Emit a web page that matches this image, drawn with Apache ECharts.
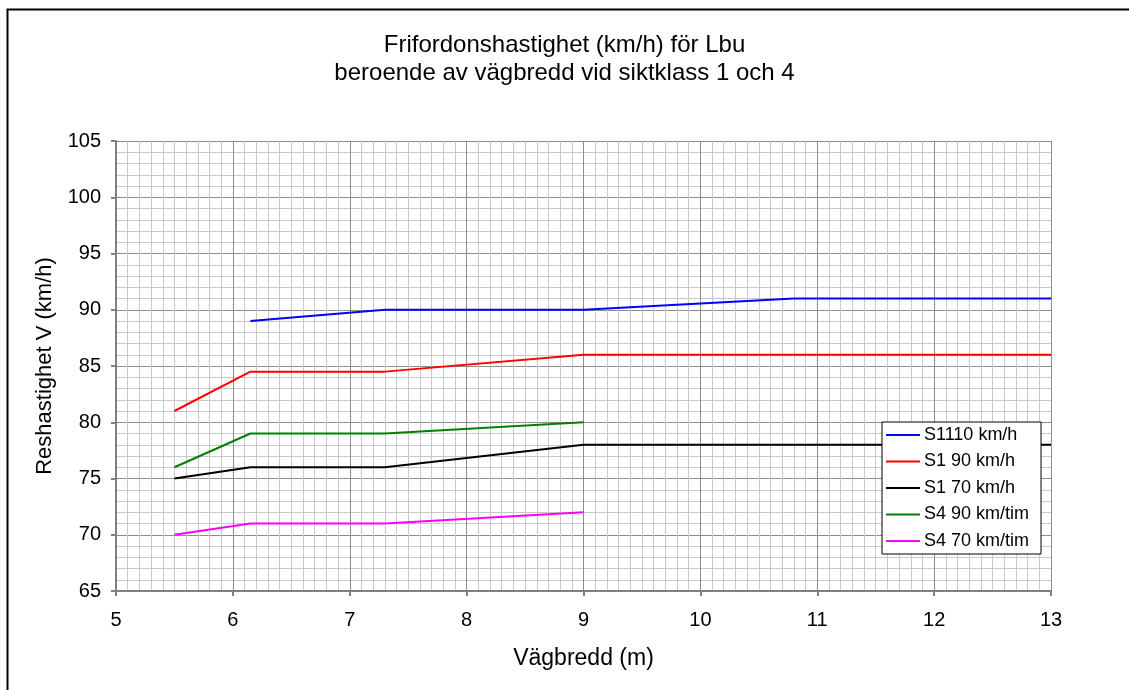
<!DOCTYPE html>
<html>
<head>
<meta charset="utf-8">
<script src="https://cdn.jsdelivr.net/npm/echarts@6/dist/echarts.min.js"></script>
<style>
  html, body { margin: 0; padding: 0; background: #fff; }
  #main { width: 1129px; height: 690px; }
</style>
</head>
<body>
<div id="main"></div>
<script>
// vägbredd (m) för varje serie
var widthsS1110 = [6.15, 7.3, 9, 10.8, 13];
var widthsLong = [5.5, 6.15, 7.3, 9, 13];
var widthsShort = [5.5, 6.15, 7.3, 9];

// reshastighet (km/h)
var s1110 = [89, 90, 90, 91, 91];
var s190 = [81, 84.5, 84.5, 86, 86];
var s170 = [75, 76, 76, 78, 78];
var s490 = [76, 79, 79, 80];
var s470 = [70, 71, 71, 72];

var seriesNames = ['S1110 km/h', 'S1 90 km/h', 'S1 70 km/h', 'S4 90 km/tim', 'S4 70 km/tim'];
var seriesColors = ['#0000ff', '#ff0000', '#000000', '#008000', '#ff00ff'];

function pairs(xs, ys) {
    var out = [];
    for (var i = 0; i < xs.length; i++) out.push([xs[i], ys[i]]);
    return out;
}

var seriesData = [
    pairs(widthsS1110, s1110),
    pairs(widthsLong, s190),
    pairs(widthsLong, s170),
    pairs(widthsShort, s490),
    pairs(widthsShort, s470)
];

var myChart = echarts.init(document.getElementById('main'));

var font = 'Liberation Sans, Arial, sans-serif';

var option = {
    animation: false,
    backgroundColor: '#fff',
    textStyle: { fontFamily: font },

    // ram: bara övre och vänstra kanten syns
    graphic: [{
        type: 'polyline',
        shape: { points: [[7.5, 690], [7.5, 9.5], [1129, 9.5]] },
        style: { fill: 'none', stroke: '#000', lineWidth: 2 },
        z: 100
    }],

    title: {
        text: 'Frifordonshastighet (km/h) för Lbu\nberoende av vägbredd vid siktklass 1 och 4',
        left: 'center',
        top: 26,
        textStyle: {
            fontSize: 24,
            fontWeight: 'normal',
            color: '#000',
            lineHeight: 28,
            fontFamily: font
        }
    },

    legend: {
        orient: 'vertical',
        left: 882,
        top: 422,
        itemWidth: 34,
        itemHeight: 2,
        itemGap: 8.5,
        padding: [4, 12, 4, 4],
        backgroundColor: '#fff',
        borderColor: '#000',
        borderWidth: 1,
        borderRadius: 0,
        icon: 'rect',
        textStyle: { fontSize: 18, color: '#000', fontFamily: font, padding: [0, 0, 0, -1] },
        data: seriesNames
    },

    grid: {
        left: 116,
        right: 78,
        top: 141,
        bottom: 99,
        containLabel: false
    },

    xAxis: {
        type: 'value',
        min: 5,
        max: 13,
        interval: 1,
        name: 'Vägbredd (m)',
        nameLocation: 'middle',
        nameGap: 56,
        nameTextStyle: { fontSize: 23, color: '#000' },
        axisLine: { lineStyle: { color: '#808080', width: 2 } },
        axisTick: { show: true, length: 5, lineStyle: { color: '#808080', width: 2 } },
        axisLabel: { fontSize: 20, color: '#000', margin: 19 },
        splitLine: { show: true, lineStyle: { color: '#8c8c8c', width: 1 } },
        minorTick: { show: false, splitNumber: 10 },
        minorSplitLine: { show: true, lineStyle: { color: '#c8c8c8', width: 1 } }
    },

    yAxis: {
        type: 'value',
        min: 65,
        max: 105,
        interval: 5,
        name: 'Reshastighet V (km/h)',
        nameLocation: 'middle',
        nameGap: 60,
        nameTextStyle: { fontSize: 22, color: '#000' },
        axisLine: { show: true, lineStyle: { color: '#808080', width: 2 } },
        axisTick: { show: true, length: 5, lineStyle: { color: '#808080', width: 2 } },
        axisLabel: { fontSize: 20, color: '#000', margin: 15 },
        splitLine: { show: true, lineStyle: { color: '#8c8c8c', width: 1 } },
        minorTick: { show: false, splitNumber: 5 },
        minorSplitLine: { show: true, lineStyle: { color: '#c8c8c8', width: 1 } }
    },

    series: seriesNames.map(function (name, i) {
        return {
            name: name,
            type: 'line',
            data: seriesData[i],
            symbol: 'none',
            color: seriesColors[i],
            lineStyle: { color: seriesColors[i], width: 2 },
            z: 3
        };
    })
};

myChart.setOption(option);
</script>
</body>
</html>
